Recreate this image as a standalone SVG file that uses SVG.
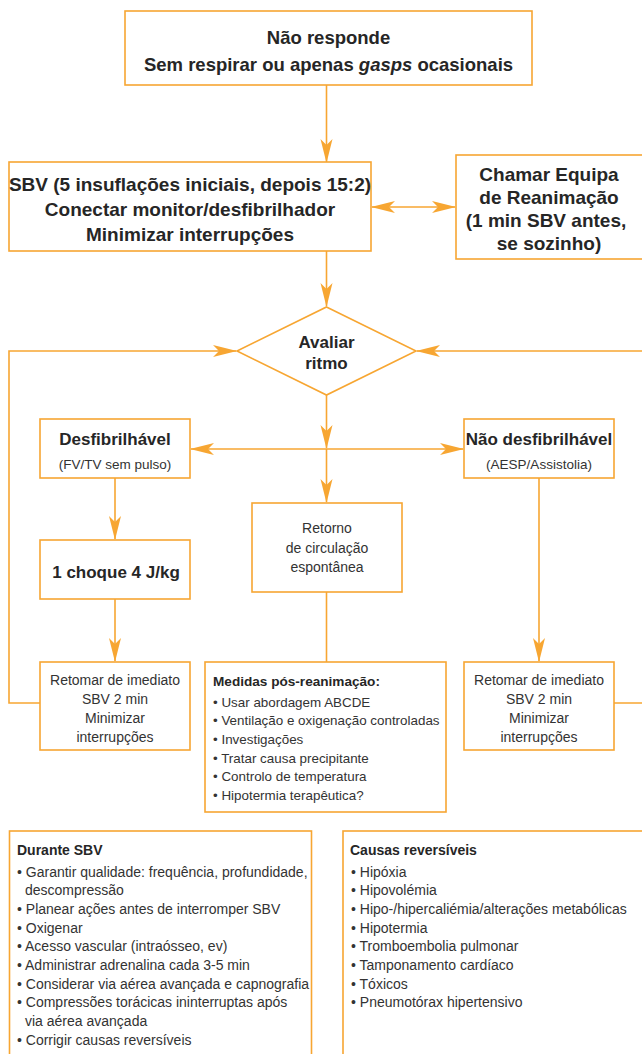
<svg xmlns="http://www.w3.org/2000/svg" width="642" height="1054" viewBox="0 0 642 1054">
  <defs>
    <style>
      .box { fill: #ffffff; stroke: #F7A632; stroke-width: 1.6; }
      .ln { fill: none; stroke: #F7A632; stroke-width: 1.6; }
      text { font-family: "Liberation Sans", Arial, sans-serif; fill: #262626; }
      .b19 { font-size: 19px; font-weight: bold; text-anchor: middle; }
      .b17 { font-size: 17px; font-weight: bold; text-anchor: middle; }
      .r14c { font-size: 14px; text-anchor: middle; fill: #333333; }
      .r13c { font-size: 13.5px; text-anchor: middle; fill: #333333; }
      .li { font-size: 13.4px; fill: #333333; }
      .lt { font-size: 13.6px; font-weight: bold; }
      .bl { font-size: 14px; fill: #333333; }
      .bt { font-size: 14px; font-weight: bold; }
    </style>
    <marker id="arrow" viewBox="0 0 24 13" refX="23" refY="6.5" markerWidth="24" markerHeight="13" markerUnits="userSpaceOnUse" orient="auto-start-reverse">
      <path d="M0,0.5 L24,6.5 L0,12.5 L6,6.5 Z" fill="#F7A632"/>
    </marker>
  </defs>

  <!-- connectors -->
  <g id="connectors">
    <line class="ln" x1="326.5" y1="85" x2="326.5" y2="162" marker-end="url(#arrow)"/>
    <line class="ln" x1="372" y1="207" x2="455" y2="207" marker-start="url(#arrow)" marker-end="url(#arrow)"/>
    <line class="ln" x1="326.5" y1="251" x2="326.5" y2="306" marker-end="url(#arrow)"/>
    <path class="ln" d="M40,703 H9 V351 H236" marker-end="url(#arrow)"/>
    <path class="ln" d="M614,703 H645 V351 H417" marker-end="url(#arrow)"/>
    <line class="ln" x1="326.5" y1="395" x2="326.5" y2="448" marker-end="url(#arrow)"/>
    <line class="ln" x1="191" y1="449" x2="463" y2="449" marker-start="url(#arrow)" marker-end="url(#arrow)"/>
    <line class="ln" x1="326.5" y1="449" x2="326.5" y2="502" marker-end="url(#arrow)"/>
    <line class="ln" x1="115" y1="478" x2="115" y2="539" marker-end="url(#arrow)"/>
    <line class="ln" x1="115" y1="599" x2="115" y2="661" marker-end="url(#arrow)"/>
    <line class="ln" x1="539" y1="478" x2="539" y2="661" marker-end="url(#arrow)"/>
    <line class="ln" x1="326.5" y1="592" x2="326.5" y2="662"/>
  </g>

  <g id="nao-responde">
    <rect class="box" x="125" y="11" width="407" height="74"/>
    <text class="b19" x="328.5" y="44" style="font-size:18.5px">Não responde</text>
    <text class="b19" x="328.5" y="71" style="font-size:18.5px">Sem respirar ou apenas <tspan font-style="italic">gasps</tspan> ocasionais</text>
  </g>

  <g id="sbv">
    <rect class="box" x="9" y="162" width="362" height="89"/>
    <text class="b19" x="190" y="191">SBV (5 insuflações iniciais, depois 15:2)</text>
    <text class="b19" x="190" y="216">Conectar monitor/desfibrilhador</text>
    <text class="b19" x="190" y="241">Minimizar interrupções</text>
  </g>

  <g id="chamar-equipa">
    <rect class="box" x="456" y="155" width="200" height="104"/>
    <text class="b19" x="549" y="181">Chamar Equipa</text>
    <text class="b19" x="549" y="204">de Reanimação</text>
    <text class="b19" x="546" y="227">(1 min SBV antes,</text>
    <text class="b19" x="549" y="250">se sozinho)</text>
  </g>

  <g id="avaliar-ritmo">
    <polygon class="box" points="326.5,307 416,351 326.5,395 237,351"/>
    <text class="b17" x="326.5" y="348">Avaliar</text>
    <text class="b17" x="326.5" y="369">ritmo</text>
  </g>

  <g id="desfibrilhavel">
    <rect class="box" x="40" y="419" width="150" height="59"/>
    <text class="b17" x="115" y="445">Desfibrilhável</text>
    <text class="r13c" x="115" y="469">(FV/TV sem pulso)</text>
  </g>

  <g id="nao-desfibrilhavel">
    <rect class="box" x="464" y="419" width="150" height="59"/>
    <text class="b17" x="539" y="445">Não desfibrilhável</text>
    <text class="r13c" x="539" y="469">(AESP/Assistolia)</text>
  </g>

  <g id="choque">
    <rect class="box" x="40" y="540" width="150" height="59"/>
    <text class="b17" x="116" y="578">1 choque 4 J/kg</text>
  </g>

  <g id="retorno">
    <rect class="box" x="252" y="503" width="150" height="89"/>
    <text class="r14c" x="327" y="533">Retorno</text>
    <text class="r14c" x="327" y="553">de circulação</text>
    <text class="r14c" x="327" y="572">espontânea</text>
  </g>

  <g id="retomar-esq">
    <rect class="box" x="40" y="662" width="150" height="88"/>
    <text class="r14c" x="115" y="685">Retomar de imediato</text>
    <text class="r14c" x="115" y="704">SBV 2 min</text>
    <text class="r14c" x="115" y="723">Minimizar</text>
    <text class="r14c" x="115" y="742">interrupções</text>
  </g>

  <g id="medidas">
    <rect class="box" x="205" y="662" width="241" height="150"/>
    <text class="lt" x="213" y="686">Medidas pós-reanimação:</text>
    <text class="li" x="213" y="707">• Usar abordagem ABCDE</text>
    <text class="li" x="213" y="725">• Ventilação e oxigenação controladas</text>
    <text class="li" x="213" y="744">• Investigações</text>
    <text class="li" x="213" y="763">• Tratar causa precipitante</text>
    <text class="li" x="213" y="781">• Controlo de temperatura</text>
    <text class="li" x="213" y="800">• Hipotermia terapêutica?</text>
  </g>

  <g id="retomar-dir">
    <rect class="box" x="464" y="662" width="150" height="88"/>
    <text class="r14c" x="539" y="685">Retomar de imediato</text>
    <text class="r14c" x="539" y="704">SBV 2 min</text>
    <text class="r14c" x="539" y="723">Minimizar</text>
    <text class="r14c" x="539" y="742">interrupções</text>
  </g>

  <g id="durante-sbv">
    <rect class="box" x="9.5" y="831" width="302" height="240"/>
    <text class="bt" x="17" y="855">Durante SBV</text>
    <text class="bl" x="17" y="877">• Garantir qualidade: frequência, profundidade,</text>
    <text class="bl" x="25" y="895">descompressão</text>
    <text class="bl" x="17" y="914">• Planear ações antes de interromper SBV</text>
    <text class="bl" x="17" y="933">• Oxigenar</text>
    <text class="bl" x="17" y="951">• Acesso vascular (intraósseo, ev)</text>
    <text class="bl" x="17" y="970">• Administrar adrenalina cada 3-5 min</text>
    <text class="bl" x="17" y="989">• Considerar  via aérea avançada e capnografia</text>
    <text class="bl" x="17" y="1007">• Compressões torácicas ininterruptas após</text>
    <text class="bl" x="25" y="1026">via aérea avançada</text>
    <text class="bl" x="17" y="1045">• Corrigir causas reversíveis</text>
  </g>

  <g id="causas-reversiveis">
    <rect class="box" x="343" y="831" width="320" height="240"/>
    <text class="bt" x="350" y="855">Causas reversíveis</text>
    <text class="bl" x="351" y="877">• Hipóxia</text>
    <text class="bl" x="351" y="895">• Hipovolémia</text>
    <text class="bl" x="351" y="914">• Hipo-/hipercaliémia/alterações metabólicas</text>
    <text class="bl" x="351" y="933">• Hipotermia</text>
    <text class="bl" x="351" y="951">• Tromboembolia pulmonar</text>
    <text class="bl" x="351" y="970">• Tamponamento cardíaco</text>
    <text class="bl" x="351" y="989">• Tóxicos</text>
    <text class="bl" x="351" y="1007">• Pneumotórax hipertensivo</text>
  </g>
</svg>
